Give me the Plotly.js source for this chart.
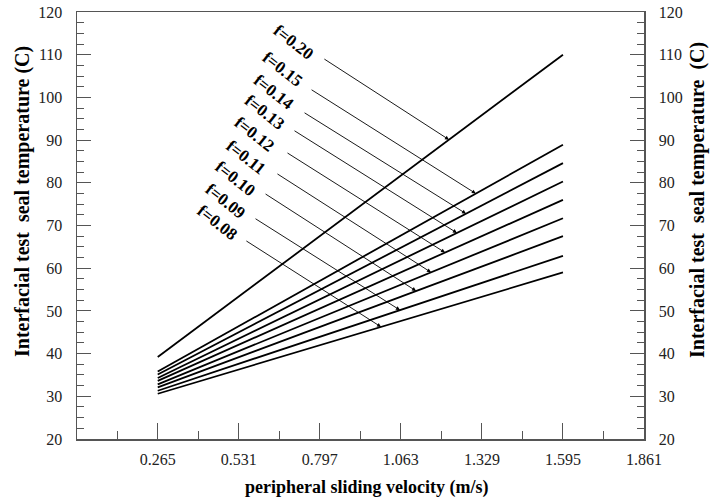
<!DOCTYPE html>
<html>
<head>
<meta charset="utf-8">
<script src="https://cdn.plot.ly/plotly-3.0.1.min.js"></script>
<style>html,body{margin:0;padding:0;background:#fff;}#chart{width:715px;height:501px;}</style>
</head>
<body>
<div id="chart"></div>
<script>
// Friction coefficients (labels), velocity endpoints and temperatures
var fLabels = ['f=0.20', 'f=0.15', 'f=0.14', 'f=0.13', 'f=0.12', 'f=0.11', 'f=0.10', 'f=0.09', 'f=0.08'];
var velocity = [0.265, 1.595];
var tStart = [39.2, 35.8, 35.1, 34.3, 33.6, 32.8, 32.1, 31.3, 30.6];
var tEnd   = [110.0, 88.9, 84.6, 80.3, 76.0, 71.7, 67.5, 62.9, 59.0];

var xTickVals = [0.265, 0.531, 0.797, 1.063, 1.329, 1.595, 1.861];
var xTickText = ['0.265', '0.531', '0.797', '1.063', '1.329', '1.595', '1.861'];
var xMinorVals = [0.133, 0.398, 0.664, 0.930, 1.196, 1.462, 1.728];

// Callout placement (data coordinates): arrow target velocity, arrow tail, label centre
var arrowX = [1.221, 1.309, 1.277, 1.247, 1.208, 1.162, 1.113, 1.060, 0.998];
var tailX  = [0.807, 0.765, 0.742, 0.709, 0.686, 0.653, 0.614, 0.581, 0.551];
var tailY  = [109.2, 102.0, 96.6, 92.4, 87.2, 82.3, 77.6, 71.8, 66.6];
var labelX = [0.712, 0.676, 0.647, 0.617, 0.584, 0.555, 0.519, 0.489, 0.460];
var labelY = [112.9, 106.6, 101.2, 96.5, 91.4, 86.0, 81.1, 75.7, 70.8];

var serif = 'Liberation Serif, Times New Roman, serif';
var axisColor = '#555555';

var traces = fLabels.map(function (name, i) {
  return {
    x: velocity,
    y: [tStart[i], tEnd[i]],
    mode: 'lines',
    name: name,
    line: {color: '#000000', width: 1.8},
    showlegend: false,
    hoverinfo: 'skip'
  };
});
traces.push({x: [null], y: [null], yaxis: 'y2', mode: 'lines', showlegend: false, hoverinfo: 'skip'});

function lineAt(i, x) {
  var t = (x - velocity[0]) / (velocity[1] - velocity[0]);
  return tStart[i] + t * (tEnd[i] - tStart[i]);
}

var annotations = [];
fLabels.forEach(function (name, i) {
  annotations.push({
    x: arrowX[i], y: lineAt(i, arrowX[i]), xref: 'x', yref: 'y',
    ax: tailX[i], ay: tailY[i], axref: 'x', ayref: 'y',
    text: '', showarrow: true, arrowhead: 2, arrowsize: 0.9, arrowwidth: 0.9,
    arrowcolor: '#000000', standoff: 0, startstandoff: 0
  });
  annotations.push({
    x: labelX[i], y: labelY[i], xref: 'x', yref: 'y',
    text: '<b>' + name + '</b>', showarrow: false, textangle: 38,
    font: {family: serif, size: 17, color: '#000000'}
  });
});
annotations.push({
  x: 22, y: 202, xref: 'paper', yref: 'paper', xanchor: 'center', yanchor: 'middle',
  text: '<b>Interfacial test\u00a0 seal temperature (C)</b>', showarrow: false, textangle: -90,
  font: {family: serif, size: 20, color: '#000000'}
});
annotations.push({
  x: 697, y: 200, xref: 'paper', yref: 'paper', xanchor: 'center', yanchor: 'middle',
  text: '<b>Interfacial test\u00a0 seal temperature\u00a0 (C)</b>', showarrow: false, textangle: -90,
  font: {family: serif, size: 20, color: '#000000'}
});
annotations.push({
  x: 366, y: 488, xref: 'paper', yref: 'paper', xanchor: 'center', yanchor: 'middle',
  text: '<b>peripheral sliding velocity (m/s)</b>', showarrow: false,
  font: {family: serif, size: 18, color: '#000000'}
});

// convert pixel-placed titles to paper coordinates
var L = 77, R = 71, T = 12, B = 62, W = 715, H = 501;
annotations.forEach(function (a) {
  if (a.xref === 'paper') {
    a.x = (a.x - L) / (W - L - R);
    a.y = 1 - (a.y - T) / (H - T - B);
  }
});

var tickFont = {family: serif, size: 16, color: '#222222'};

var layout = {
  width: W, height: H,
  margin: {l: L, r: R, t: T, b: B, pad: 0},
  paper_bgcolor: '#ffffff', plot_bgcolor: '#ffffff',
  font: {family: serif, size: 16, color: '#222222'},
  xaxis: {
    range: [0, 1.861], showgrid: false, zeroline: false,
    showline: true, linecolor: axisColor, linewidth: 1.5, mirror: true,
    tickmode: 'array', tickvals: xTickVals, ticktext: xTickText,
    ticks: 'inside', ticklen: 16, tickwidth: 1, tickcolor: axisColor,
    ticklabelstandoff: 5,
    minor: {tickmode: 'array', tickvals: xMinorVals, ticks: 'inside', ticklen: 8, tickwidth: 1, tickcolor: axisColor, showgrid: false},
    tickfont: tickFont
  },
  yaxis: {
    range: [20, 120], showgrid: false, zeroline: false,
    showline: true, linecolor: axisColor, linewidth: 1.5,
    tickmode: 'linear', tick0: 20, dtick: 10,
    ticks: 'inside', ticklen: 14, tickwidth: 1, tickcolor: axisColor,
    ticklabelstandoff: 10,
    minor: {dtick: 2.5, ticks: 'inside', ticklen: 7, tickwidth: 1, tickcolor: axisColor, showgrid: false},
    tickfont: tickFont
  },
  yaxis2: {
    overlaying: 'y', side: 'right', anchor: 'x',
    range: [20, 120], showgrid: false, zeroline: false,
    showline: true, linecolor: axisColor, linewidth: 1.5,
    tickmode: 'linear', tick0: 20, dtick: 10,
    ticks: 'inside', ticklen: 14, tickwidth: 1, tickcolor: axisColor,
    ticklabelstandoff: 10,
    minor: {dtick: 2.5, ticks: 'inside', ticklen: 7, tickwidth: 1, tickcolor: axisColor, showgrid: false},
    tickfont: tickFont
  },
  annotations: annotations,
  showlegend: false
};

Plotly.newPlot('chart', traces, layout, {displayModeBar: false, staticPlot: true});
</script>
</body>
</html>
